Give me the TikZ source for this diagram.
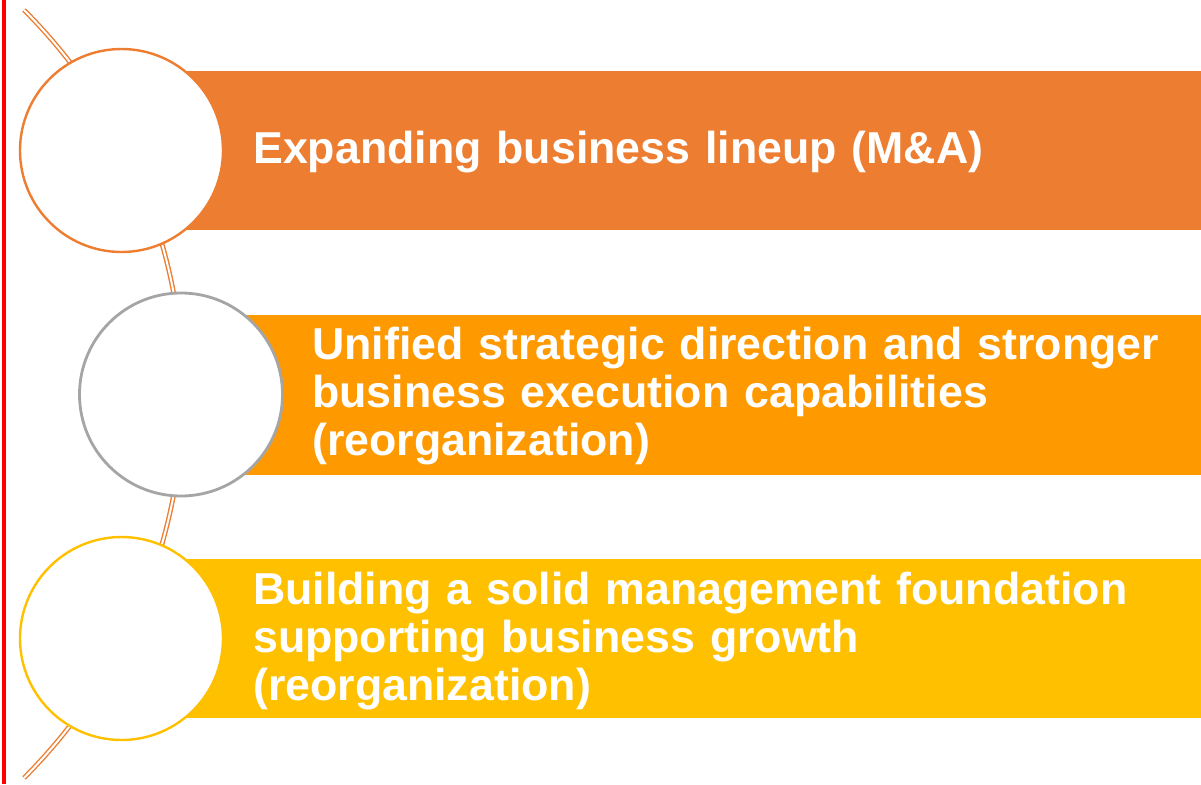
\documentclass[tikz,border=0pt]{standalone}
\usepackage{fontspec}
\setmainfont{Liberation Sans}
\definecolor{barA}{HTML}{ED7D31}
\definecolor{barB}{HTML}{FF9900}
\definecolor{barC}{HTML}{FFC000}
\definecolor{ringB}{HTML}{A5A5A5}
\definecolor{spine}{HTML}{ED7D31}
\definecolor{edge}{HTML}{FF0000}
\begin{document}
\begin{tikzpicture}[x=1pt,y=-1pt,
  disc/.style={circle,fill=white,line width=2.4pt,minimum size=203pt,inner sep=0pt},
  label/.style={text=white,font=\bfseries\fontsize{44.7}{48}\selectfont,
    text width=940pt,align=left,inner sep=0pt,anchor=base west}]
\useasboundingbox (0,0) rectangle (1201,784);
% coloured bands
\fill[barA] (122,71) rectangle (1201,230);
\fill[barB] (181,315) rectangle (1201,475);
\fill[barC] (122,559) rectangle (1201,718);
% double curved spine behind the discs
\coordinate (spinestart) at (24,10);
\draw[spine,line width=1.4pt,double=white,double distance=2pt]
  (spinestart) arc[start angle=-45,end angle=45,radius=543];
% discs
\node[disc,draw=barA] (d1) at (121.5,150.5) {};
\node[disc,draw=ringB,line width=2.8pt] (d2) at (181,394.5) {};
\node[disc,draw=barC] (d3) at (121.5,638.5) {};
% red margin rule
\draw[edge,line width=4.5pt] (4.2,0) -- (4.2,784);
% texts
\node[label] (t1) at (253,163) {Expanding business lineup (M\&A)};
\node[label] (t2) at (312,359) {Unified strategic direction and stronger\\business execution capabilities\\(reorganization)};
\node[label] (t3) at (253,604) {Building a solid management foundation\\supporting business growth\\(reorganization)};
\end{tikzpicture}
\end{document}
